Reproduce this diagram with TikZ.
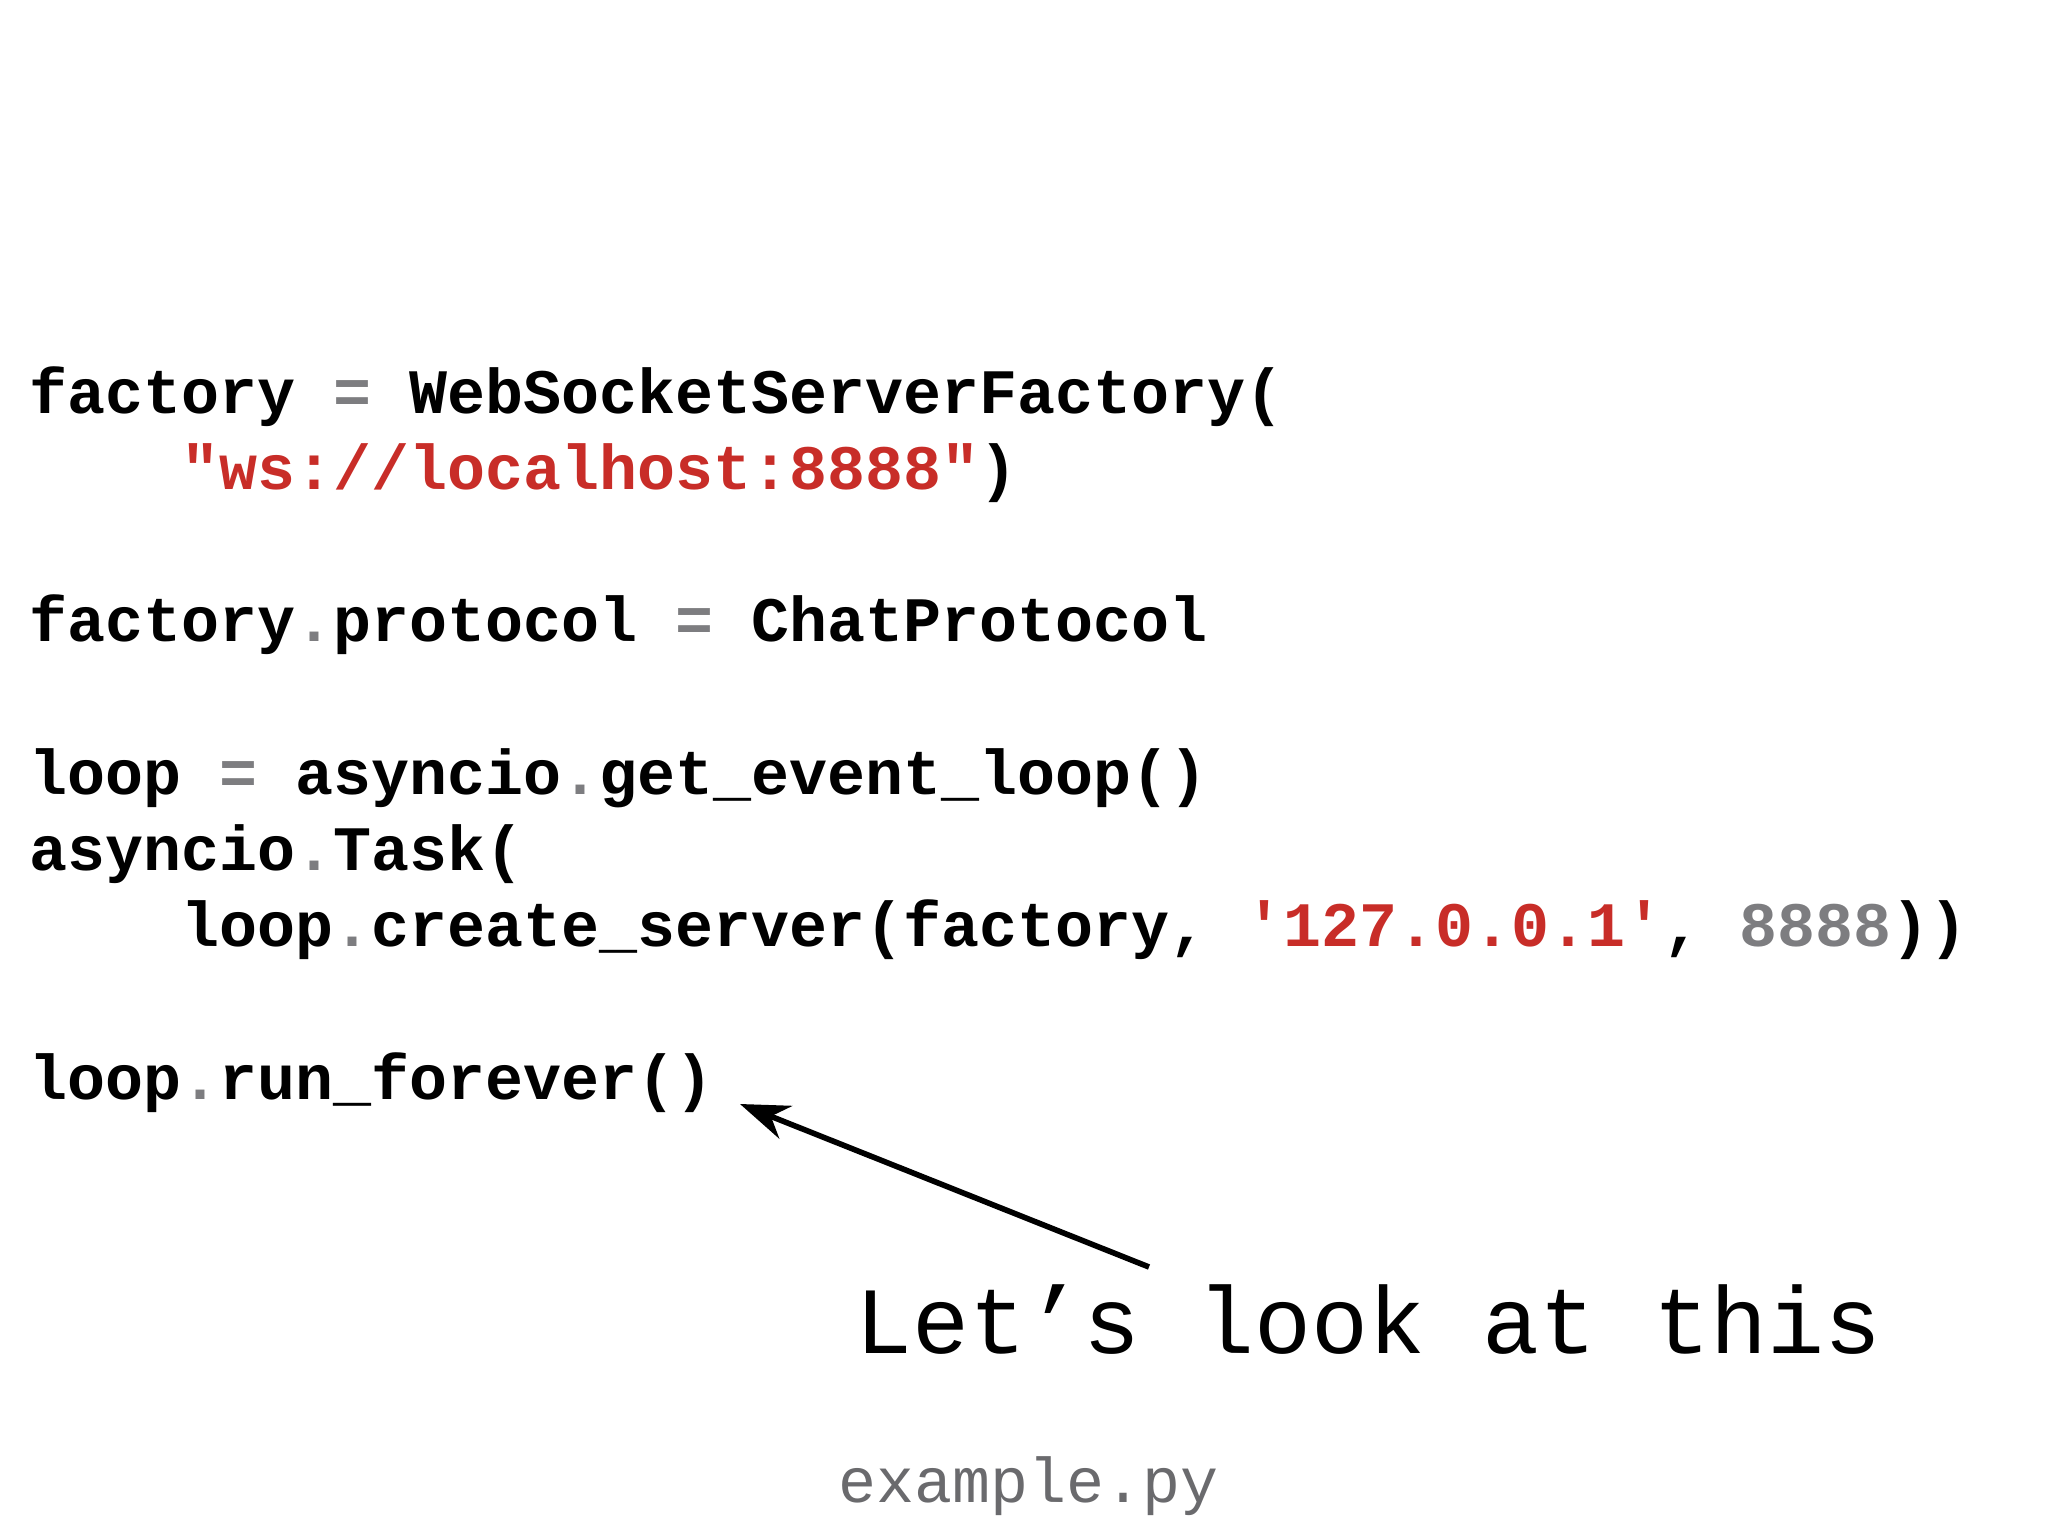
\documentclass[tikz,border=0pt]{standalone}
\usetikzlibrary{arrows.meta}
\usepackage{fontspec}
\setmonofont{Liberation Mono}
\definecolor{cred}{RGB}{200,45,40}
\definecolor{cgray}{RGB}{125,125,128}
\newcommand{\R}[1]{\textcolor{cred}{#1}}
\newcommand{\G}[1]{\textcolor{cgray}{#1}}
\begin{document}
\begin{tikzpicture}[x=0.01cm,y=-0.01cm,
  code/.style={anchor=base west,inner sep=0pt,font=\fontsize{18}{20}\selectfont\ttfamily\bfseries}]
\useasboundingbox (0,0) rectangle (2048,1536);
\node[code] (l1) at (29,413) {factory \G{=} WebSocketServerFactory(};
\node[code] (l2) at (181,489) {\R{"ws://localhost:8888"})};
\node[code] (l3) at (29,641) {factory\G{.}protocol \G{=} ChatProtocol};
\node[code] (l4) at (29,794) {loop \G{=} asyncio\G{.}get\_event\_loop()};
\node[code] (l5) at (29,870) {asyncio\G{.}Task(};
\node[code] (l6) at (181,946) {loop\G{.}create\_server(factory, \R{'127.0.0.1'}, \G{8888}))};
\node[code] (l7) at (29,1099) {loop\G{.}run\_forever()};
\node[anchor=base west,inner sep=0pt,font=\fontsize{27}{30}\selectfont\ttfamily] (lbl) at (855,1353) {Let’s look at this};
\node[anchor=base west,inner sep=0pt,font=\fontsize{18}{20}\selectfont\ttfamily,text=cgray!85!black] (fn) at (838,1502) {example.py};
\coordinate (tail) at (1149,1267);
\coordinate (tip) at (740,1104);
\draw[line width=1.6pt,-{Stealth[length=14pt,width=10pt]}] (tail) -- (tip);
\end{tikzpicture}
\end{document}
